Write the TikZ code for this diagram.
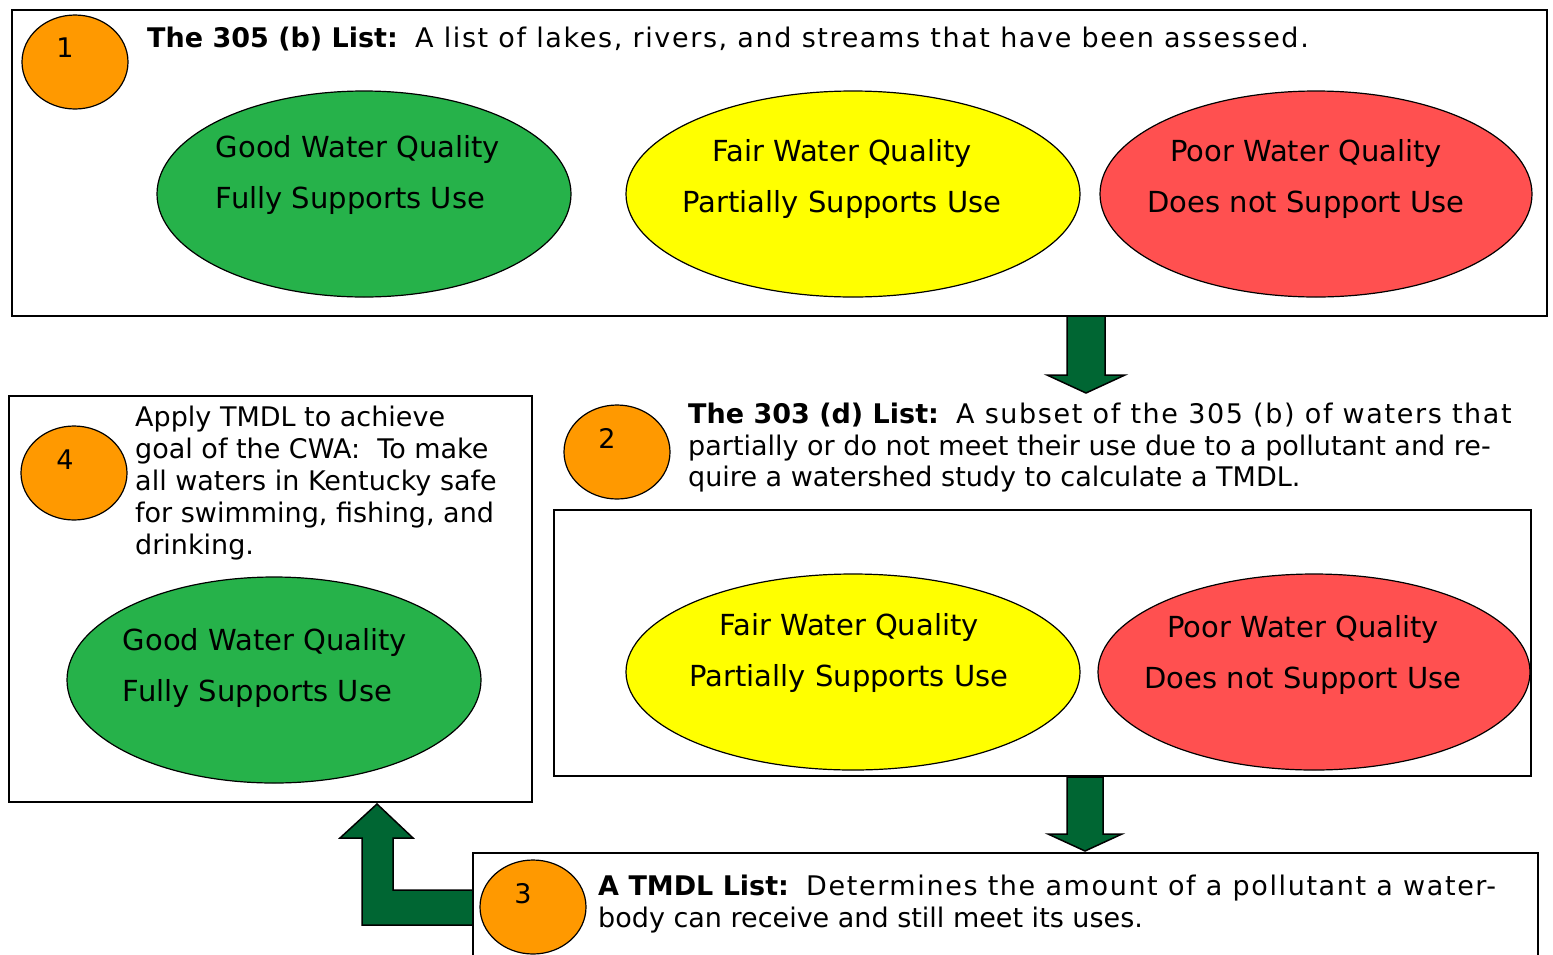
\documentclass[tikz,border=0pt]{standalone}
\usepackage{fontspec}
\setmainfont{DejaVu Sans}
\newfontfamily\spaced[LetterSpace=6]{DejaVu Sans}
\usetikzlibrary{shapes.geometric, calc}

\definecolor{numorange}{RGB}{255,153,0}
\definecolor{goodgreen}{RGB}{38,178,74}
\definecolor{fairyellow}{RGB}{255,255,0}
\definecolor{poorred}{RGB}{255,80,80}
\definecolor{arrowgreen}{RGB}{0,102,51}

\begin{document}
\begin{tikzpicture}[
  x=1pt, y=-1pt,
  listbox/.style = {
    draw,
    line width=2pt,
    inner sep=0pt
  },
  oval/.style = {
    ellipse,
    draw,
    line width=1.2pt,
    inner sep=0pt
  },
  numoval/.style = {oval, fill=numorange, minimum width=106pt, minimum height=94pt},
  numtext/.style = {font=\fontsize{27}{30}\selectfont, inner sep=0pt},
  ovaltext/.style = {font=\fontsize{29}{51}\selectfont, align=center, inner sep=0pt},
  listtext/.style = {font=\fontsize{27}{31.5}\selectfont, align=left, inner sep=0pt, anchor=north west},
  blockarrow/.style = {fill=arrowgreen, draw=black, line width=1.5pt, line join=miter}
]

\fill[white] (0,0) rectangle (1553,954);
\useasboundingbox (0,0) rectangle (1553,954);
\clip (0,0) rectangle (1553,954);

% ======================================================
% BLOCK ARROWS
% ======================================================

\coordinate (arr1) at (1086,316);
\filldraw[blockarrow] (arr1) ++(-19,0) -- ++(0,59) -- ++(-20,0) -- ++(39,18)
  -- ++(39,-18) -- ++(-20,0) -- ++(0,-59) -- cycle;

\coordinate (arr2) at (1085,777);
\filldraw[blockarrow] (arr2) ++(-18,0) -- ++(0,57) -- ++(-19,0) -- ++(37,17)
  -- ++(37,-17) -- ++(-19,0) -- ++(0,-57) -- cycle;

\coordinate (arr3) at (473,890);
\filldraw[blockarrow] (arr3) -- ++(-80,0) -- ++(0,-52) -- ++(20,0) -- ++(-36,-34)
  -- ++(-37,34) -- ++(22,0) -- ++(0,87) -- ++(111,0) -- cycle;

% ======================================================
% 1: THE 305 (b) LIST
% ======================================================

\node[listbox, minimum width=1535pt, minimum height=306pt] (list305) at (779.5,163) {};

\node[numoval] (c1) at (75,62) {};
\node[numtext] (n1) at ($(c1)+(-10,-14)$) {1};

\node[listtext] (head305) at (147,27) {%
  \textbf{The 305 (b) List:}\ \ {\spaced A list of lakes, rivers, and streams that have been assessed.}};

\node[oval, fill=goodgreen, minimum width=414pt, minimum height=206pt] (good1) at (364,194) {};
\node[ovaltext, align=left] (good1txt) at (358,175) {Good Water Quality\\Fully Supports Use};

\node[oval, fill=fairyellow, minimum width=454pt, minimum height=206pt] (fair1) at (853,194) {};
\node[ovaltext] (fair1txt) at (842,179) {Fair Water Quality\\Partially Supports Use};

\node[oval, fill=poorred, minimum width=432pt, minimum height=206pt] (poor1) at (1316,194) {};
\node[ovaltext] (poor1txt) at (1306,179) {Poor Water Quality\\Does not Support Use};

% ======================================================
% 2: THE 303 (d) LIST
% ======================================================

\node[numoval] (c2) at (617,452) {};
\node[numtext] (n2) at ($(c2)+(-10,-14)$) {2};

\node[listtext] (head303) at (688,403) {%
  \textbf{The 303 (d) List:}\ \ {\spaced A subset of the 305 (b) of waters that}\\
  partially or do not meet their use due to a pollutant and re-\\
  quire a watershed study to calculate a TMDL.};

\node[listbox, minimum width=977pt, minimum height=266pt] (list303) at (1042.5,643) {};

\node[oval, fill=fairyellow, minimum width=454pt, minimum height=196pt] (fair2) at (853,672) {};
\node[ovaltext] (fair2txt) at (849,653) {Fair Water Quality\\Partially Supports Use};

\node[oval, fill=poorred, minimum width=432pt, minimum height=196pt] (poor2) at (1314,672) {};
\node[ovaltext] (poor2txt) at (1303,655) {Poor Water Quality\\Does not Support Use};

% ======================================================
% 3: A TMDL LIST
% ======================================================

\node[listbox, minimum width=1065pt, minimum height=130pt] (tmdl) at (1005.5,918) {};

\node[numoval] (c3) at (533,907) {};
\node[numtext] (n3) at ($(c3)+(-10,-13)$) {3};

\node[listtext] (headtmdl) at (598,875) {%
  \textbf{A TMDL List:}\ \ {\spaced Determines the amount of a pollutant a water-}\\
  body can receive and still meet its uses.};

% ======================================================
% 4: APPLY TMDL
% ======================================================

\node[listbox, minimum width=523pt, minimum height=406pt] (apply) at (270.5,599) {};

\node[numoval] (c4) at (74,473) {};
\node[numtext] (n4) at ($(c4)+(-9,-13)$) {4};

\node[listtext, font=\fontsize{27}{32}\selectfont] (applytxt) at (135,406) {%
  Apply TMDL to achieve\\
  goal of the CWA:\ \ To make\\
  all waters in Kentucky safe\\
  for swimming, fishing, and\\
  drinking.};

\node[oval, fill=goodgreen, minimum width=414pt, minimum height=206pt] (good4) at (274,680) {};
\node[ovaltext, align=left] (good4txt) at (265,668) {Good Water Quality\\Fully Supports Use};

\end{tikzpicture}
\end{document}
